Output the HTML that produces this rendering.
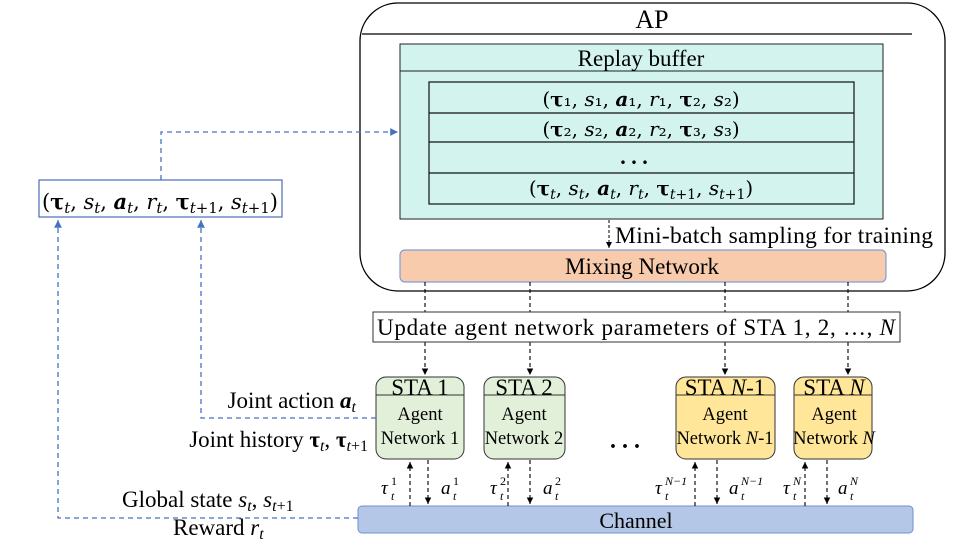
<!DOCTYPE html>
<html><head><meta charset="utf-8"><style>
body{margin:0;background:#fff}
svg{display:block}
text{font-family:"Liberation Serif",serif;fill:#000}
.m{font-family:"DejaVu Serif","Liberation Serif",serif}
</style></head><body>
<svg width="969" height="545" viewBox="0 0 969 545" xmlns="http://www.w3.org/2000/svg">
<defs>
<marker id="ab" markerWidth="8" markerHeight="8" refX="6" refY="3" orient="auto"><path d="M0,0 L6,3 L0,6z" fill="#000"/></marker>
<marker id="abl" markerWidth="8" markerHeight="8" refX="6" refY="3" orient="auto"><path d="M0,0 L6,3 L0,6z" fill="#4472c4"/></marker>
</defs>
<!-- AP -->
<rect x="360" y="3" width="585" height="288" rx="38" fill="#fff" stroke="#000" stroke-width="1.3"/>
<line x1="362" y1="34" x2="912" y2="34" stroke="#000" stroke-width="1.2"/>
<text x="652" y="28" font-size="26" text-anchor="middle">AP</text>
<!-- Replay buffer -->
<rect x="400" y="44" width="483" height="175" fill="#d3f3ef" stroke="#222" stroke-width="1"/>
<line x1="400" y1="71" x2="883" y2="71" stroke="#222"/>
<text x="641" y="66" font-size="23" text-anchor="middle">Replay buffer</text>
<rect x="429" y="82" width="425" height="122" fill="none" stroke="#111" stroke-width="1.2"/>
<line x1="429" y1="113" x2="854" y2="113" stroke="#111" stroke-width="1.2"/>
<line x1="429" y1="142" x2="854" y2="142" stroke="#111" stroke-width="1.2"/>
<line x1="429" y1="173" x2="854" y2="173" stroke="#111" stroke-width="1.2"/>
<text x="641" y="106" font-size="20" text-anchor="middle" class="m">(<tspan font-weight="bold">τ</tspan>₁, <tspan font-style="italic">s</tspan>₁, <tspan font-weight="bold" font-style="italic">a</tspan>₁, <tspan font-style="italic">r</tspan>₁, <tspan font-weight="bold">τ</tspan>₂, <tspan font-style="italic">s</tspan>₂)</text>
<text x="641" y="136" font-size="20" text-anchor="middle" class="m">(<tspan font-weight="bold">τ</tspan>₂, <tspan font-style="italic">s</tspan>₂, <tspan font-weight="bold" font-style="italic">a</tspan>₂, <tspan font-style="italic">r</tspan>₂, <tspan font-weight="bold">τ</tspan>₃, <tspan font-style="italic">s</tspan>₃)</text>
<text x="634" y="164" font-size="22" text-anchor="middle" font-weight="bold">. . .</text>
<text x="641" y="195" font-size="20" text-anchor="middle" class="m">(<tspan font-weight="bold">τ</tspan><tspan font-style="italic" font-size="14" dy="4">t</tspan><tspan dy="-4">, </tspan><tspan font-style="italic">s</tspan><tspan font-style="italic" font-size="14" dy="4">t</tspan><tspan dy="-4">, </tspan><tspan font-weight="bold" font-style="italic">a</tspan><tspan font-style="italic" font-size="14" dy="4">t</tspan><tspan dy="-4">, </tspan><tspan font-style="italic">r</tspan><tspan font-style="italic" font-size="14" dy="4">t</tspan><tspan dy="-4">, </tspan><tspan font-weight="bold">τ</tspan><tspan font-size="14" dy="4"><tspan font-style="italic">t</tspan>+1</tspan><tspan dy="-4">, </tspan><tspan font-style="italic">s</tspan><tspan font-size="14" dy="4"><tspan font-style="italic">t</tspan>+1</tspan><tspan dy="-4">)</tspan></text>
<!-- mini batch -->
<line x1="609" y1="220" x2="609" y2="248" stroke="#000" stroke-dasharray="3,2" marker-end="url(#ab)"/>
<text x="615" y="243" font-size="23.5" textLength="318">Mini-batch sampling for training</text>
<!-- Mixing -->
<rect x="400" y="250" width="486" height="32" rx="5" fill="#f8cbad" stroke="#7f9fd8" stroke-width="1.2"/>
<text x="642" y="274" font-size="23" text-anchor="middle">Mixing Network</text>
<!-- dashed down -->
<g stroke="#000" stroke-dasharray="4,3" stroke-width="1.1">
<line x1="425" y1="282" x2="425" y2="312"/><line x1="530" y1="282" x2="530" y2="312"/>
<line x1="725" y1="282" x2="725" y2="312"/><line x1="848" y1="282" x2="848" y2="312"/>
<line x1="425" y1="342" x2="425" y2="375" marker-end="url(#ab)"/><line x1="530" y1="342" x2="530" y2="375" marker-end="url(#ab)"/>
<line x1="725" y1="342" x2="725" y2="375" marker-end="url(#ab)"/><line x1="848" y1="342" x2="848" y2="375" marker-end="url(#ab)"/>
</g>
<rect x="373" y="312" width="527" height="30" fill="#fff" stroke="#333"/>
<text x="636" y="335" font-size="23" text-anchor="middle" textLength="518">Update agent network parameters of STA 1, 2, …, <tspan font-style="italic">N</tspan></text>
<!-- STAs -->
<g font-size="18.5">
<rect x="376" y="377" width="88" height="82" rx="10" fill="#e2f0d9" stroke="#333"/>
<line x1="376" y1="395" x2="464" y2="395" stroke="#333"/>
<text x="420" y="395" font-size="23" text-anchor="middle">STA 1</text>
<text x="420" y="420" text-anchor="middle">Agent</text><text x="420" y="444" text-anchor="middle">Network 1</text>
<rect x="484" y="377" width="81" height="82" rx="10" fill="#e2f0d9" stroke="#333"/>
<line x1="484" y1="395" x2="565" y2="395" stroke="#333"/>
<text x="524" y="395" font-size="23" text-anchor="middle">STA 2</text>
<text x="524" y="420" text-anchor="middle">Agent</text><text x="524" y="444" text-anchor="middle">Network 2</text>
<rect x="676" y="377" width="99" height="82" rx="10" fill="#ffe699" stroke="#333"/>
<line x1="676" y1="395" x2="775" y2="395" stroke="#333"/>
<text x="725" y="395" font-size="23" text-anchor="middle">STA <tspan font-style="italic">N</tspan>-1</text>
<text x="725" y="420" text-anchor="middle">Agent</text><text x="725" y="444" text-anchor="middle">Network <tspan font-style="italic">N</tspan>-1</text>
<rect x="794" y="377" width="78" height="82" rx="10" fill="#ffe699" stroke="#333"/>
<line x1="794" y1="395" x2="872" y2="395" stroke="#333"/>
<text x="834" y="395" font-size="23" text-anchor="middle">STA <tspan font-style="italic">N</tspan></text>
<text x="834" y="420" text-anchor="middle">Agent</text><text x="834" y="444" text-anchor="middle">Network <tspan font-style="italic">N</tspan></text>
</g>
<text x="625" y="448" font-size="24" text-anchor="middle" font-weight="bold">. . .</text>
<!-- channel -->
<rect x="358" y="506" width="555" height="27" rx="4" fill="#b4c7e7" stroke="#6f8fcf"/>
<text x="636" y="528" font-size="22" text-anchor="middle">Channel</text>
<g stroke="#000" stroke-dasharray="4,3" stroke-width="1.1">
<line x1="410" y1="506" x2="410" y2="462" marker-end="url(#ab)"/><line x1="428" y1="460" x2="428" y2="504" marker-end="url(#ab)"/>
<line x1="508" y1="506" x2="508" y2="462" marker-end="url(#ab)"/><line x1="530" y1="460" x2="530" y2="504" marker-end="url(#ab)"/>
<line x1="695" y1="506" x2="695" y2="462" marker-end="url(#ab)"/><line x1="717" y1="460" x2="717" y2="504" marker-end="url(#ab)"/>
<line x1="805" y1="506" x2="805" y2="462" marker-end="url(#ab)"/><line x1="827" y1="460" x2="827" y2="504" marker-end="url(#ab)"/>
</g>
<g class="m" font-style="italic">
<text x="381" y="494" font-size="19">τ</text><text x="391" y="485" font-size="12" font-style="normal">1</text><text x="391" y="500" font-size="12">t</text>
<text x="441" y="494" font-size="19">a</text><text x="453" y="485" font-size="12" font-style="normal">1</text><text x="453" y="500" font-size="12">t</text>
<text x="490" y="494" font-size="19">τ</text><text x="500" y="485" font-size="12" font-style="normal">2</text><text x="500" y="500" font-size="12">t</text>
<text x="543" y="494" font-size="19">a</text><text x="555" y="485" font-size="12" font-style="normal">2</text><text x="555" y="500" font-size="12">t</text>
<text x="655" y="494" font-size="19">τ</text><text x="665" y="485" font-size="12">N−1</text><text x="665" y="500" font-size="12">t</text>
<text x="729" y="494" font-size="19">a</text><text x="741" y="485" font-size="12">N−1</text><text x="741" y="500" font-size="12">t</text>
<text x="783" y="494" font-size="19">τ</text><text x="793" y="485" font-size="12">N</text><text x="793" y="500" font-size="12">t</text>
<text x="838" y="494" font-size="19">a</text><text x="850" y="485" font-size="12">N</text><text x="850" y="500" font-size="12">t</text>
</g>
<!-- left box -->
<rect x="39" y="180" width="243" height="37" fill="#fff" stroke="#4a6fb5" stroke-width="1.2"/>
<text x="160" y="209" font-size="21" text-anchor="middle" class="m" textLength="236">(<tspan font-weight="bold">τ</tspan><tspan font-style="italic" font-size="15" dy="4">t</tspan><tspan dy="-4">, </tspan><tspan font-style="italic">s</tspan><tspan font-style="italic" font-size="15" dy="4">t</tspan><tspan dy="-4">, </tspan><tspan font-weight="bold" font-style="italic">a</tspan><tspan font-style="italic" font-size="15" dy="4">t</tspan><tspan dy="-4">, </tspan><tspan font-style="italic">r</tspan><tspan font-style="italic" font-size="15" dy="4">t</tspan><tspan dy="-4">, </tspan><tspan font-weight="bold">τ</tspan><tspan font-size="15" dy="4"><tspan font-style="italic">t</tspan>+1</tspan><tspan dy="-4">, </tspan><tspan font-style="italic">s</tspan><tspan font-size="15" dy="4"><tspan font-style="italic">t</tspan>+1</tspan><tspan dy="-4">)</tspan></text>
<g stroke="#4472c4" stroke-dasharray="5,4" stroke-width="1.3" fill="none">
<polyline points="161,180 161,132 398,132" marker-end="url(#abl)"/>
<polyline points="376,418 201,418 201,220" marker-end="url(#abl)"/>
<polyline points="358,518 58,518 58,220" marker-end="url(#abl)"/>
</g>
<g font-size="23">
<text x="356" y="408" text-anchor="end">Joint action <tspan font-weight="bold" font-style="italic">a</tspan><tspan font-style="italic" font-size="16" dy="4">t</tspan></text>
<text x="368" y="447" text-anchor="end">Joint history <tspan font-weight="bold">τ</tspan><tspan font-style="italic" font-size="16" dy="4">t</tspan><tspan dy="-4">, </tspan><tspan font-weight="bold">τ</tspan><tspan font-size="16" dy="4"><tspan font-style="italic">t</tspan>+1</tspan></text>
<text x="122" y="507">Global state <tspan font-style="italic">s</tspan><tspan font-style="italic" font-size="16" dy="4">t</tspan><tspan dy="-4">, </tspan><tspan font-style="italic">s</tspan><tspan font-size="16" dy="4"><tspan font-style="italic">t</tspan>+1</tspan></text>
<text x="173" y="535">Reward <tspan font-style="italic">r</tspan><tspan font-style="italic" font-size="16" dy="4">t</tspan></text>
</g>
</svg>
</body></html>
